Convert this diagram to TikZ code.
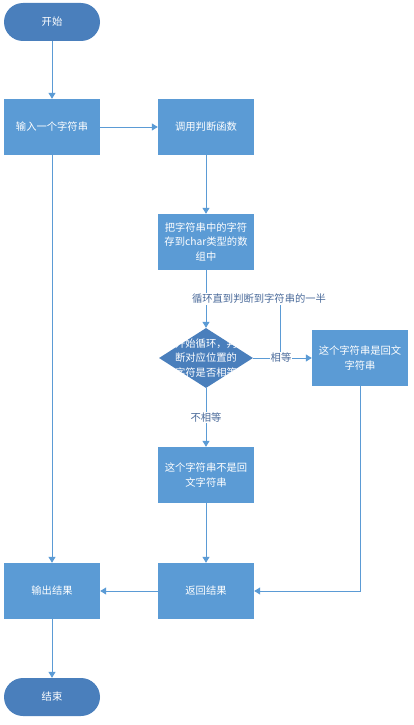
\documentclass[tikz,border=0pt]{standalone}
\usepackage{fontspec}
\setmainfont{Noto Sans CJK SC}
\usetikzlibrary{arrows.meta,shapes.geometric}
\definecolor{boxblue}{HTML}{5B9BD5}
\definecolor{termblue}{HTML}{4A7FBC}
\definecolor{linecol}{HTML}{5B9BD5}
\definecolor{labcol}{HTML}{4A6A9A}
\tikzset{
  every node/.style={font=\fontsize{10.3}{14.5}\selectfont},
  procbox/.style={draw=none, fill=boxblue, text=white, minimum width=96pt, minimum height=56pt, align=center, text width=92pt, inner sep=0pt},
  termbox/.style={draw=none, fill=termblue, text=white, rounded corners=19pt, minimum width=96pt, minimum height=38pt, inner sep=0pt},
  decbox/.style={diamond, draw=none, fill=termblue, text=white, minimum width=94pt, minimum height=60pt, inner sep=0pt, aspect=1.57},
  conn/.style={draw=linecol, line width=1pt, -{Triangle[width=7pt,length=6pt]}},
  plainconn/.style={draw=linecol, line width=1pt},
  lab/.style={fill=white, text=labcol, inner sep=1pt}
}
\begin{document}
\begin{tikzpicture}[x=1pt,y=-1pt]
\useasboundingbox (0,0) rectangle (414,725);
\node[termbox] (start) at (52,22) {开始};
\node[procbox] (input) at (52,127) {输入一个字符串};
\node[procbox] (call) at (206,127) {调用判断函数};
\node[procbox] (arr) at (206,242) {把字符串中的字符\\存到char类型的数\\组中};
\node[decbox] (dec) at (206,358) {};
\node[text=white, align=center] (dectext) at (206,358) {开始循环，判\\断对应位置的\\字符是否相等};
\node[procbox] (yes) at (360,358) {这个字符串是回文\\字符串};
\node[procbox] (no) at (206,475) {这个字符串不是回\\文字符串};
\node[procbox] (ret) at (206,591) {返回结果};
\node[procbox] (out) at (52,591) {输出结果};
\node[termbox] (end) at (52,697) {结束};

\draw[conn] (start) -- (input);
\draw[conn] (input) -- (call);
\draw[conn] (call) -- (arr);
\draw[conn] (arr) -- (dec);
\draw[conn] (dec) -- (yes);
\coordinate (loopA) at (280,358);
\coordinate (loopB) at (280,299);
\coordinate (loopC) at (206,299);
\draw[plainconn] (loopA) -- (loopB) -- (loopC);
\node[lab] (looplab) at (259,299) {循环直到判断到字符串的一半};
\node[lab] (eqlab) at (281,358) {相等};
\draw[conn] (dec) -- (no) node[lab, pos=0.5] (nelab) {不相等};
\draw[conn] (no) -- (ret);
\draw[conn] (yes) |- (ret);
\draw[conn] (ret) -- (out);
\draw[conn] (input) -- (out);
\draw[conn] (out) -- (end);
\end{tikzpicture}
\end{document}
